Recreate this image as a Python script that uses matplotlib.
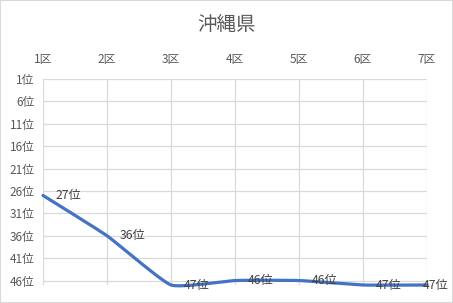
import matplotlib
matplotlib.use("Agg")
import matplotlib.pyplot as plt
import numpy as np

plt.rcParams["font.family"] = ["Noto Sans CJK JP", "DejaVu Sans"]

DISTRICTS = ["1区", "2区", "3区", "4区", "5区", "6区", "7区"]
RANKS = [27, 36, 47, 46, 46, 47, 47]
RANK_TICKS = [1, 6, 11, 16, 21, 26, 31, 36, 41, 46]
TITLE = "沖縄県"

GRAY = "#595959"
GRID = "#d9d9d9"
BLUE = "#4472c4"


def smooth(xs, ys, k=1/14, n=30):
    # gently smoothed line: cubic Bezier with short tangent handles
    xs = np.asarray(xs, float); ys = np.asarray(ys, float)
    px, py = [], []
    for i in range(len(xs) - 1):
        i0 = max(i - 1, 0); i3 = min(i + 2, len(xs) - 1)
        c1x = xs[i] + (xs[i + 1] - xs[i0]) * k
        c1y = ys[i] + (ys[i + 1] - ys[i0]) * k
        c2x = xs[i + 1] - (xs[i3] - xs[i]) * k
        c2y = ys[i + 1] - (ys[i3] - ys[i]) * k
        t = np.linspace(0, 1, n)
        bx = (1-t)**3*xs[i] + 3*(1-t)**2*t*c1x + 3*(1-t)*t**2*c2x + t**3*xs[i+1]
        by = (1-t)**3*ys[i] + 3*(1-t)**2*t*c1y + 3*(1-t)*t**2*c2y + t**3*ys[i+1]
        px.extend(bx); py.extend(by)
    return px, py


fig = plt.figure(figsize=(4.53, 3.03), dpi=100)
fig.patches.append(plt.Rectangle((0, 0), 1, 1, transform=fig.transFigure,
                                 fill=False, edgecolor="#d9d9d9", lw=1.5))
ax = fig.add_axes([43/453, 18/303, 384/453, 206/303])

x = np.arange(len(DISTRICTS))
sx, sy = smooth(x, RANKS)
ax.plot(sx, sy, color=BLUE, lw=2.3, solid_capstyle="round", zorder=3, clip_on=False)

for i, r in enumerate(RANKS):
    dx = 9 if i < len(RANKS) - 1 else -3
    ax.annotate(f"{r}位", (x[i], r), xytext=(dx, 0), textcoords="offset points",
                ha="left", va="center", fontsize=8.8, color="#404040", zorder=4,
                annotation_clip=False)

ax.set_xlim(0, len(DISTRICTS) - 1)
ax.set_ylim(47, 1)
ax.set_yticks(RANK_TICKS)
ax.set_yticklabels([f"{t}位" for t in RANK_TICKS])
ax.set_xticks(x)
ax.set_xticklabels(DISTRICTS)
ax.xaxis.tick_top()
ax.tick_params(axis="both", length=0, labelsize=8.5, colors=GRAY)
ax.tick_params(axis="x", pad=9)
ax.tick_params(axis="y", pad=6)
ax.grid(True, color=GRID, lw=0.9)
ax.set_axisbelow(True)
for s in ax.spines.values():
    s.set_visible(False)

fig.text(0.5, 1 - 24/303, TITLE, ha="center", va="center", fontsize=14, color=GRAY)

fig.savefig("out.png", dpi=100)
